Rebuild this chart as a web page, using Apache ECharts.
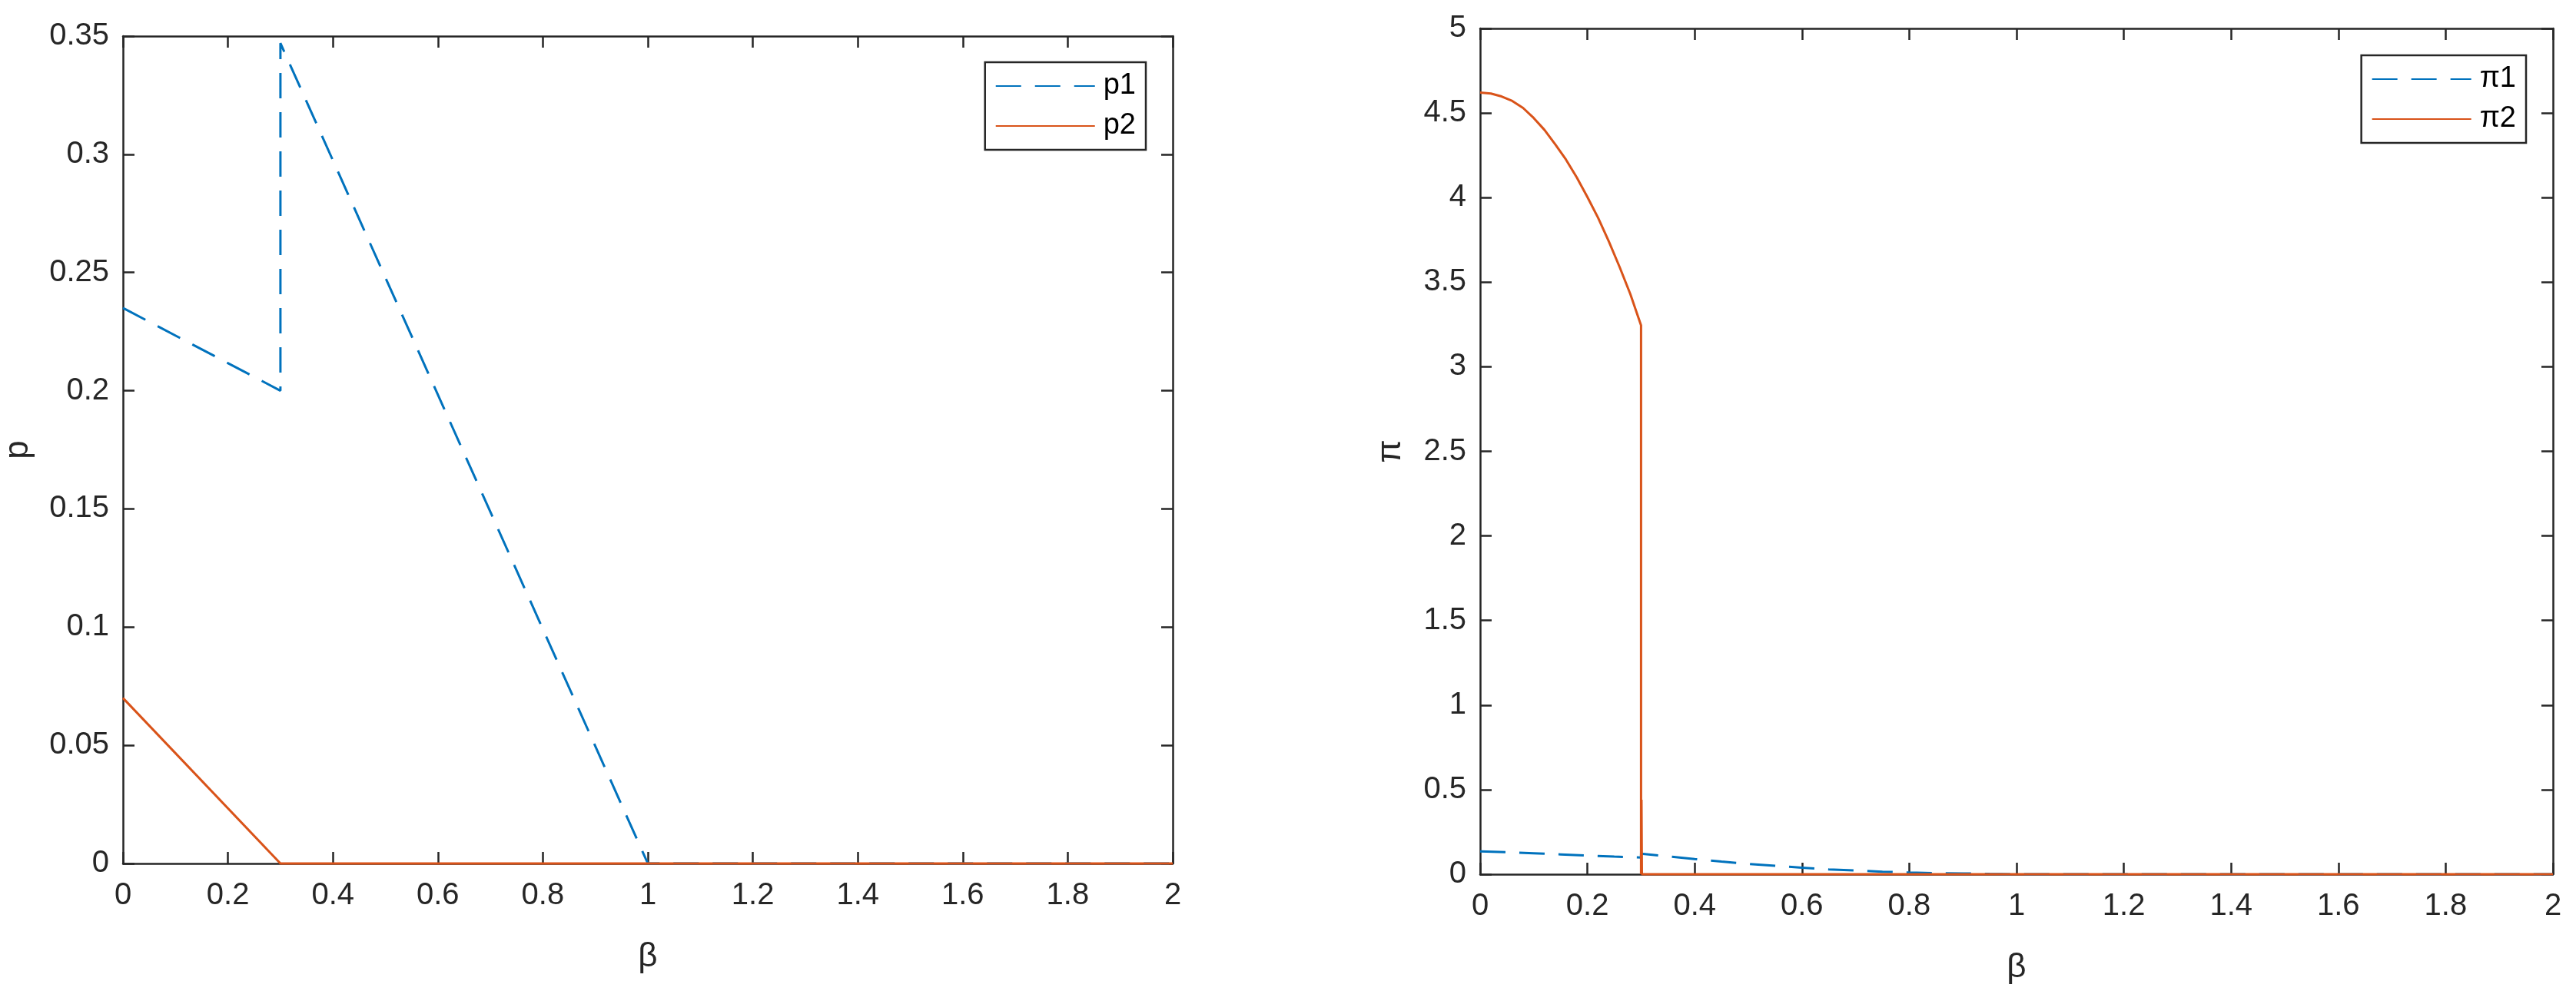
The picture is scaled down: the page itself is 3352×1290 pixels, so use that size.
<!DOCTYPE html>
<html>
<head>
<meta charset="utf-8">
<script src="https://cdn.jsdelivr.net/npm/echarts@6/dist/echarts.min.js"></script>
<style>
  html, body { margin: 0; padding: 0; background: #fff; }
  #main { width: 3352px; height: 1290px; }
</style>
</head>
<body>
<div id="main"></div>
<script>
// left panel: prices
const betaP1 = [0, 0.3, 0.3, 1, 2]
const p1 = [0.235, 0.2, 0.347, 0, 0]
const betaP2 = [0, 0.3, 2]
const p2 = [0.07, 0, 0]

// right panel: profits
const betaPi1 = [0, 0.05, 0.1, 0.15, 0.2, 0.25, 0.3, 0.3, 0.35, 0.4, 0.45, 0.5, 0.55, 0.6, 0.65, 0.7, 0.75, 0.8, 0.85, 0.9, 0.95, 1, 2]
const pi1 = [0.135, 0.130, 0.124, 0.117, 0.110, 0.104, 0.099, 0.122, 0.106, 0.090, 0.075, 0.061, 0.050, 0.039, 0.028, 0.022, 0.015, 0.010, 0.006, 0.005, 0.002, 0, 0]
const betaPi2 = [0, 0.02, 0.04, 0.06, 0.08, 0.1, 0.12, 0.14, 0.16, 0.18, 0.2, 0.22, 0.24, 0.26, 0.28, 0.3, 0.3, 0.3008, 0.3016, 2]
const pi2 = [4.621, 4.615, 4.598, 4.571, 4.530, 4.470, 4.400, 4.315, 4.225, 4.120, 4.003, 3.880, 3.740, 3.590, 3.430, 3.245, 0, 0.44, 0, 0]

const xTicks = { min: 0, max: 2, interval: 0.2 }
const pTicks = { min: 0, max: 0.35, interval: 0.05 }
const piTicks = { min: 0, max: 5, interval: 0.5 }

const FONT = "'Liberation Sans', Arial, sans-serif"
const INK = '#262626'
const BLUE = '#0072BD'
const ORANGE = '#D95319'

const zip = (xs, ys) => xs.map((x, i) => [x, ys[i]])

const axisLine = { show: true, onZero: false, lineStyle: { color: INK, width: 2.5 } }
const tick = { show: true, inside: true, length: 15, lineStyle: { color: INK, width: 2.5 } }

function xAxes(gridIndex) {
  return [
    {
      type: 'value', gridIndex, position: 'bottom', ...xTicks,
      name: 'β', nameLocation: 'middle', nameGap: 100,
      nameTextStyle: { fontFamily: FONT, fontSize: 44, color: INK },
      axisLine, axisTick: tick, splitLine: { show: false },
      axisLabel: { fontFamily: FONT, fontSize: 40, color: INK, margin: 22 }
    },
    {
      type: 'value', gridIndex, position: 'top', ...xTicks,
      axisLine, axisTick: tick, splitLine: { show: false }, axisLabel: { show: false }
    }
  ]
}

function yAxes(gridIndex, ticks, name, gap) {
  return [
    {
      type: 'value', gridIndex, position: 'left', ...ticks,
      name, nameLocation: 'middle', nameGap: gap,
      nameTextStyle: { fontFamily: FONT, fontSize: 44, color: INK },
      axisLine, axisTick: tick, splitLine: { show: false },
      axisLabel: { fontFamily: FONT, fontSize: 40, color: INK, margin: 18 }
    },
    {
      type: 'value', gridIndex, position: 'right', ...ticks,
      axisLine, axisTick: tick, splitLine: { show: false }, axisLabel: { show: false }
    }
  ]
}

// itemHeight kept tiny so the marker ECharts puts on line legend icons is hidden under the line
function legend(names, right, top) {
  return {
    data: names, orient: 'vertical', right, top,
    backgroundColor: '#fff', borderColor: INK, borderWidth: 2.5,
    padding: [11, 13, 11, 13],
    itemWidth: 129, itemHeight: 2, itemGap: 12,
    itemStyle: { opacity: 0 },
    textStyle: { fontFamily: FONT, fontSize: 38, color: '#000', lineHeight: 40, padding: [0, 0, 0, 6] }
  }
}

function line(name, data, color, dashed, xi, yi) {
  return {
    name, type: 'line', data, xAxisIndex: xi, yAxisIndex: yi,
    symbol: 'none', clip: false, animation: false,
    lineStyle: { color, width: 3, type: dashed ? [33, 18] : 'solid' },
    itemStyle: { color }
  }
}

const chart = echarts.init(document.getElementById('main'))
chart.setOption({
  backgroundColor: '#fff',
  animation: false,
  grid: [
    { left: 160, top: 47, width: 1366, height: 1077 },
    { left: 1926, top: 37, width: 1396, height: 1101 }
  ],
  xAxis: [...xAxes(0), ...xAxes(1)],
  yAxis: [...yAxes(0, pTicks, 'p', 114), ...yAxes(1, piTicks, 'π', 94)],
  legend: [
    legend(['p1', 'p2'], 3352 - 1491, 81),
    legend(['π1', 'π2'], 3352 - 3287, 72)
  ],
  series: [
    line('p1', zip(betaP1, p1), BLUE, true, 0, 0),
    line('p2', zip(betaP2, p2), ORANGE, false, 0, 0),
    line('π1', zip(betaPi1, pi1), BLUE, true, 2, 2),
    line('π2', zip(betaPi2, pi2), ORANGE, false, 2, 2)
  ]
})
</script>
</body>
</html>
